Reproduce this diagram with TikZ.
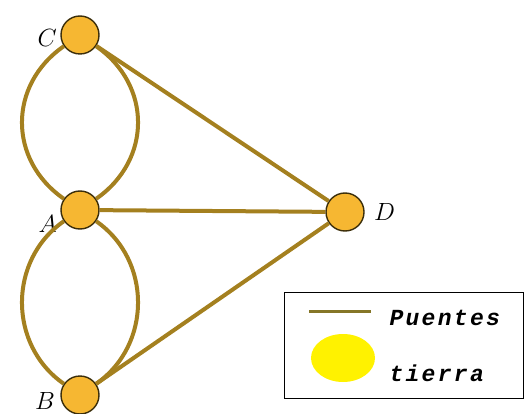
\documentclass[tikz,border=0pt]{standalone}
\usepackage{fontspec}
\usepackage{xcolor}
\usepackage{tikz}
\usetikzlibrary{positioning,shapes.geometric}
\newfontfamily\legendfont[LetterSpace=10]{Liberation Mono}
\definecolor{landfill}{HTML}{F6B732}
\definecolor{landedge}{HTML}{3B2E0A}
\definecolor{bridgebrown}{HTML}{A4801F}
\definecolor{keyolive}{HTML}{857628}
\definecolor{keyyellow}{HTML}{FFF200}

\begin{document}
\begin{tikzpicture}[
        x=1pt, y=-1pt,
        land/.style={
            circle,
            draw=landedge,
            line width=1.4pt,
            fill=landfill,
            minimum size=38pt,
            inner sep=0pt
        },
        tag/.style={font=\fontsize{27}{27}\selectfont},
        bridge/.style={line width=4pt,bridgebrown},
        keytext/.style={font=\fontsize{23}{23}\selectfont\legendfont\bfseries\itshape,anchor=west}
    ]
        \useasboundingbox (0,0) rectangle (527,414);

        % land masses
        \node[land] (C) at (80,35) {};
        \node[land] (A) at (80,210) {};
        \node[land] (B) at (80,395) {};
        \node[land] (D) at (345,212) {};

        \node[tag, left=0pt of C, yshift=-3pt] (lc) {$C$};
        \node[tag, left=0pt of A, yshift=-14pt] (la) {$A$};
        \node[tag, left=2pt of B, yshift=-6pt] (lb) {$B$};
        \node[tag, right=6pt of D] (ld) {$D$};

        % bridges
        \draw[bridge] (C) .. controls (8,85) and (8,160) .. (A);
        \draw[bridge] (C) .. controls (152,85) and (152,160) .. (A);
        \draw[bridge] (A) .. controls (8,260) and (8,345) .. (B);
        \draw[bridge] (A) .. controls (152,260) and (152,345) .. (B);
        \draw[bridge] (C) -- (D);
        \draw[bridge] (A) -- (D);
        \draw[bridge] (B) -- (D);

        % legend
        \node[draw=black, line width=1pt, minimum width=239pt, minimum height=106pt,
              inner sep=0pt] (legend) at (403.5,345.5) {};
        \coordinate (k1) at (309,311);
        \coordinate (k2) at (371,311);
        \draw[line width=3pt, keyolive] (k1) -- (k2);
        \node[ellipse, fill=keyyellow, minimum width=64pt, minimum height=48pt,
              inner sep=0pt] (keyland) at (343,358) {};
        \node[keytext] (kp) at (386,318) {Puentes};
        \node[keytext] (kt) at (386,373) {tierra};
    \end{tikzpicture}
\end{document}
